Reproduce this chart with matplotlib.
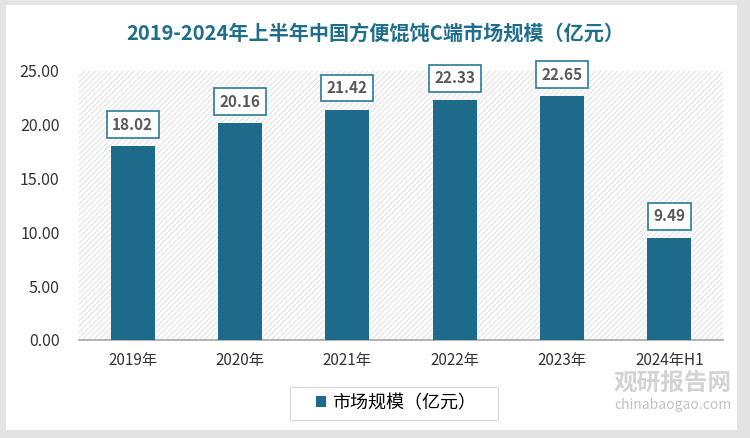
import matplotlib.pyplot as plt
from matplotlib.patches import Rectangle

plt.rcParams['font.family'] = ['Noto Sans CJK SC', 'DejaVu Sans']
plt.rcParams['hatch.linewidth'] = 0.6

years = ['2019年', '2020年', '2021年', '2022年', '2023年', '2024年H1']
values = [18.02, 20.16, 21.42, 22.33, 22.65, 9.49]
yticks = [0, 5, 10, 15, 20, 25]

barColor = '#1d6a8b'
W, H = 750, 438

fig = plt.figure(figsize=(7.5, 4.38), dpi=100)
fig.patch.set_facecolor('#e4e4e4')
# white panel
fig.patches.append(Rectangle((6 / W, 8 / H), 731 / W, 425 / H, transform=fig.transFigure,
                             facecolor='white', edgecolor='none', zorder=-5))
# legend frame
fig.patches.append(Rectangle((290 / W, 1 - 420 / H), 208 / W, 33 / H, transform=fig.transFigure,
                             facecolor='none', edgecolor='#d9d9d9', linewidth=1, zorder=-4))

ax = fig.add_axes([79 / W, (H - 340) / H, 644 / W, 269 / H])
ax.set_facecolor('white')
ax.add_patch(Rectangle((0, 0), 1, 1, transform=ax.transAxes, facecolor='none',
                       edgecolor='#d9d9d9', hatch='//////', linewidth=0, zorder=0))

x = range(len(years))
ax.bar(x, values, width=0.41, color=barColor, zorder=3, label='市场规模（亿元）')
for i, v in enumerate(values):
    ax.annotate('%.2f' % v, (i, v), xytext=(0, 15.5), textcoords='offset points', ha='center',
                va='center', fontsize=11, fontweight='bold', color='#595959', zorder=5,
                bbox=dict(boxstyle='square,pad=0.35', facecolor='white', edgecolor='#2a7a9a', linewidth=1.2))

ax.set_xlim(-0.5, len(years) - 0.5)
ax.set_ylim(0, 25)
ax.set_yticks(yticks)
ax.set_yticklabels(['%.2f' % t for t in yticks], fontsize=11.5, color='#333333')
ax.set_xticks(list(x))
ax.set_xticklabels(years, fontsize=11, color='#333333')
ax.tick_params(length=0)
ax.tick_params(axis='x', pad=9)
ax.tick_params(axis='y', pad=14)
for s in ['top', 'right', 'left']:
    ax.spines[s].set_visible(False)
ax.spines['bottom'].set_color('#a6a6a6')
ax.spines['bottom'].set_linewidth(1.2)

fig.text(375 / W, 1 - 33 / H, '2019-2024年上半年中国方便馄饨C端市场规模（亿元）', ha='center', va='center',
         fontsize=14.5, fontweight='bold', color='#1f6e8c')

leg = ax.legend(loc='center', bbox_to_anchor=(396 / W, 1 - 403 / H), bbox_transform=fig.transFigure,
                fontsize=13, frameon=False, handlelength=0.55, handleheight=0.55,
                handletextpad=0.35, borderpad=0, borderaxespad=0)

# watermark
fig.text(673 / W, 1 - 383 / H, '观研报告网', ha='center', va='center', fontsize=17,
         fontweight='bold', color='#c8c8c8', alpha=0.8, zorder=10)
fig.text(673 / W, 1 - 405 / H, 'chinabaogao.com', ha='center', va='center', fontsize=10,
         color='#bbbbbb', alpha=0.9, zorder=10)

fig.savefig('out.png', dpi=100)
